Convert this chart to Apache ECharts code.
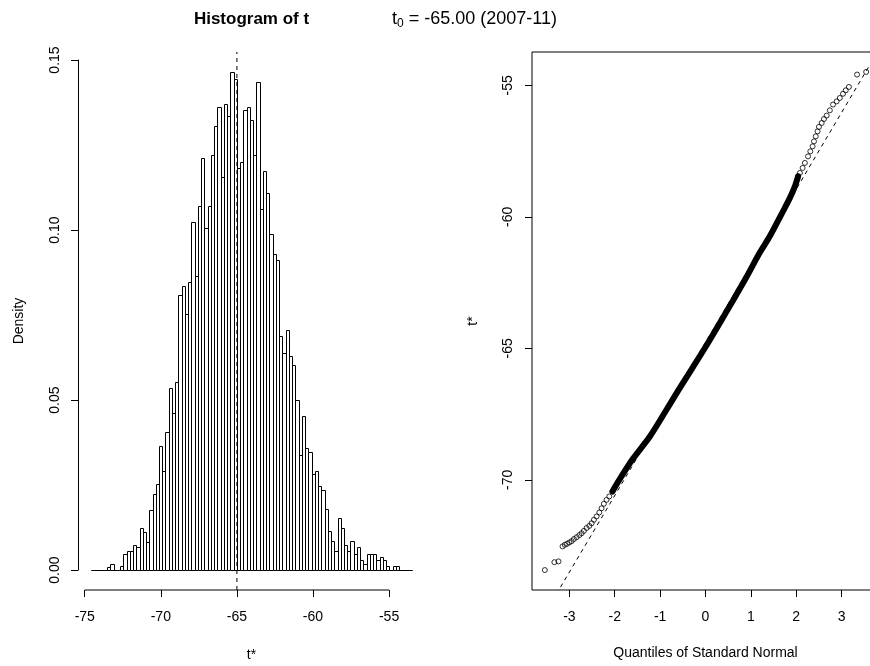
<!DOCTYPE html>
<html>
<head>
<meta charset="utf-8">
<title>Histogram of t</title>
<script src="https://cdn.jsdelivr.net/npm/echarts@6/dist/echarts.min.js"></script>
<style>
  html, body { margin: 0; padding: 0; background: #fff; }
  #main { width: 870px; height: 666px; }
</style>
</head>
<body>
<div id="main"></div>
<script>
// bootstrap histogram: breaks centred on t0, bins k = -45 .. 53
var t0 = -65;
var binWidth = 0.2133;
var firstBin = -45;
var density = [
    0, 0, 0, 0, 0,
    0.0010, 0.0017, 0, 0, 0.0011, 0.0047, 0.0056, 0.0056, 0.0074, 0.0067,
    0.0123, 0.0113, 0.0084, 0.0178, 0.0225, 0.0253, 0.0366, 0.0290, 0.0405, 0.0536,
    0.0461, 0.0554, 0.0808, 0.0834, 0.0752, 0.0846, 0.1025, 0.0864, 0.1071, 0.1211,
    0.1005, 0.1071, 0.1220, 0.1305, 0.1361, 0.1155, 0.1372, 0.1334, 0.1465, 0.1445,
    0.1182, 0.1201, 0.1354, 0.1362, 0.1324, 0.1221, 0.1436, 0.1062, 0.1174, 0.1109,
    0.0988, 0.0929, 0.0911, 0.0687, 0.0638, 0.0706, 0.0630, 0.0602, 0.0500, 0.0339,
    0.0452, 0.0359, 0.0347, 0.0282, 0.0290, 0.0246, 0.0235, 0.0179, 0.0115, 0.0085,
    0.0057, 0.0153, 0.0124, 0.0075, 0.0057, 0.0085, 0.0048, 0.0068, 0.0029, 0.0018,
    0.0048, 0.0048, 0.0048, 0.0030, 0.0038, 0.0030, 0.0012, 0, 0.0012, 0.0012,
    0, 0, 0, 0
];
var histTicksX = [-75, -70, -65, -60, -55];
var histTicksY = [0, 0.05, 0.10, 0.15];

// normal QQ plot: dense middle (drawn as a thick band) and the sparser tails
var qqBandX = [-2.05, -1.90, -1.60, -1.23, -0.90, -0.60, -0.30, 0.00, 0.30, 0.60, 0.90, 1.20, 1.42, 1.71, 1.86, 1.97, 2.04];
var qqBandY = [-70.44, -70.00, -69.20, -68.36, -67.45, -66.60, -65.78, -64.95, -64.08, -63.20, -62.30, -61.35, -60.73, -59.78, -59.28, -58.84, -58.46];
var qqLowX = [-3.54, -3.33, -3.24, -3.15, -3.10, -3.05, -3.00, -2.95, -2.90, -2.84, -2.78, -2.73, -2.68, -2.62,
              -2.56, -2.51, -2.46, -2.40, -2.34, -2.29, -2.24, -2.18, -2.12, -2.05];
var qqLowY = [-73.43, -73.13, -73.10, -72.53, -72.47, -72.43, -72.38, -72.33, -72.25, -72.18, -72.10, -72.03, -71.94, -71.83,
              -71.75, -71.65, -71.52, -71.39, -71.24, -71.08, -70.91, -70.76, -70.63, -70.44];
var qqHighX = [2.04, 2.08, 2.14, 2.19, 2.26, 2.31, 2.36, 2.39, 2.43, 2.47, 2.50, 2.56, 2.61, 2.67, 2.74, 2.81,
               2.89, 2.96, 3.03, 3.09, 3.16, 3.34, 3.54];
var qqHighY = [-58.46, -58.33, -58.14, -57.95, -57.70, -57.51, -57.32, -57.13, -56.94, -56.75, -56.58, -56.43, -56.28, -56.15, -55.95, -55.73,
               -55.61, -55.48, -55.32, -55.19, -55.06, -54.59, -54.49];
var qqTicksX = [-3, -2, -1, 0, 1, 2, 3];
var qqTicksY = [-70, -65, -60, -55];
// qqline (through the quartiles)
var qqIntercept = -64.77;
var qqSlope = 2.913;

(function() {
    var myChart = echarts.init(document.getElementById('main'), null, { renderer: 'canvas' });
    var font = "'Liberation Sans', Arial, sans-serif";

    // histogram rects [x0, x1, density]
    var bins = [];
    for (var i = 0; i < density.length; i++) {
        var k = firstBin + i;
        bins.push([t0 + k * binWidth, t0 + (k + 1) * binWidth, density[i]]);
    }
    // R style limits: range extended by 4%
    var hx0 = bins[0][0], hx1 = bins[bins.length - 1][1];
    var hdx = (hx1 - hx0) * 0.04;
    var hymax = Math.max.apply(null, density);
    var hdy = hymax * 0.04;
    var hxMin = hx0 - hdx, hxMax = hx1 + hdx, hyMin = -hdy, hyMax = hymax + hdy;

    var allX = qqBandX.concat(qqLowX, qqHighX), allY = qqBandY.concat(qqLowY, qqHighY);
    var qx0 = Math.min.apply(null, allX), qx1 = Math.max.apply(null, allX);
    var qy0 = Math.min.apply(null, allY), qy1 = Math.max.apply(null, allY);
    var qxMin = qx0 - (qx1 - qx0) * 0.04, qxMax = qx1 + (qx1 - qx0) * 0.04;
    var qyMin = qy0 - (qy1 - qy0) * 0.04, qyMax = qy1 + (qy1 - qy0) * 0.04;

    var pairs = function(xs, ys) { return xs.map(function(x, i) { return [x, ys[i]]; }); };
    var band = pairs(qqBandX, qqBandY);
    var tails = pairs(qqLowX, qqLowY).concat(pairs(qqHighX, qqHighY));

    var labelStyle = { color: '#000', fontFamily: font, fontSize: 14 };
    var tick = { show: true, inside: false, length: 7, lineStyle: { color: '#000', width: 1 } };
    var noLine = { show: false, onZero: false };

    option = {
        animation: false,
        backgroundColor: '#fff',
        grid: [
            { left: 78, top: 52, width: 347, height: 538, outerBoundsMode: 'none' },
            { left: 532, top: 52, width: 347, height: 538, outerBoundsMode: 'none',
              show: true, borderColor: '#000', borderWidth: 1, backgroundColor: 'transparent' }
        ],
        graphic: [
            { type: 'text', x: 251.5, y: 19, style: { text: 'Histogram of t', fill: '#000',
                font: 'bold 17px ' + font, textAlign: 'center', textVerticalAlign: 'middle' } },
            { type: 'text', x: 392, y: 19, style: { text: 't{s|0} = -65.00 (2007-11)', fill: '#000',
                font: '18px ' + font, textVerticalAlign: 'middle',
                rich: { s: { fontSize: 12, fontFamily: font, verticalAlign: 'bottom', padding: [9, 0, 0, 0] } } } }
        ],
        xAxis: [{
            gridIndex: 0, type: 'value', min: hxMin, max: hxMax,
            name: 't*', nameLocation: 'middle', nameGap: 58,
            nameTextStyle: labelStyle,
            axisLine: noLine, splitLine: { show: false },
            axisTick: Object.assign({ customValues: histTicksX }, tick),
            axisLabel: Object.assign({ customValues: histTicksX, margin: 20 }, labelStyle)
        }, {
            gridIndex: 1, type: 'value', min: qxMin, max: qxMax,
            name: 'Quantiles of Standard Normal', nameLocation: 'middle', nameGap: 56,
            nameTextStyle: labelStyle,
            axisLine: noLine, splitLine: { show: false },
            axisTick: Object.assign({ customValues: qqTicksX }, tick),
            axisLabel: Object.assign({ customValues: qqTicksX, margin: 20 }, labelStyle)
        }],
        yAxis: [{
            gridIndex: 0, type: 'value', min: hyMin, max: hyMax,
            name: 'Density', nameLocation: 'middle', nameGap: 52, nameRotate: 90,
            nameTextStyle: labelStyle,
            axisLine: noLine, splitLine: { show: false },
            axisTick: Object.assign({ customValues: histTicksY }, tick),
            axisLabel: Object.assign({ customValues: histTicksY, margin: 16, rotate: 90,
                formatter: function(v) { return v.toFixed(2); } }, labelStyle)
        }, {
            gridIndex: 1, type: 'value', min: qyMin, max: qyMax,
            name: 't*', nameLocation: 'middle', nameGap: 52, nameRotate: 90,
            nameTextStyle: labelStyle,
            axisLine: noLine, splitLine: { show: false },
            axisTick: Object.assign({ customValues: qqTicksY }, tick),
            axisLabel: Object.assign({ customValues: qqTicksY, margin: 17, rotate: 90 }, labelStyle)
        }],
        series: [{
            name: 'hist',
            type: 'custom',
            xAxisIndex: 0, yAxisIndex: 0,
            clip: false,
            encode: { x: [0, 1], y: 2 },
            renderItem: function(params, api) {
                var p0 = api.coord([api.value(0), api.value(2)]);
                var p1 = api.coord([api.value(1), 0]);
                return {
                    type: 'rect',
                    shape: { x: Math.round(p0[0]) + 0.5, y: Math.round(p0[1]) + 0.5,
                             width: Math.round(p1[0]) - Math.round(p0[0]), height: Math.round(p1[1]) - Math.round(p0[1]) },
                    style: { fill: '#fff', stroke: '#000', lineWidth: 1 }
                };
            },
            data: bins
        }, {
            // t0 line
            name: 't0', type: 'line', xAxisIndex: 0, yAxisIndex: 0,
            symbol: 'none', clip: false,
            lineStyle: { color: '#000', width: 1, type: [4, 4] },
            data: [[t0, hyMin], [t0, hyMax]]
        }, {
            // R style x axis line, from first to last tick
            name: 'histAxisX', type: 'line', xAxisIndex: 0, yAxisIndex: 0,
            symbol: 'none', clip: false,
            lineStyle: { color: '#000', width: 1 },
            data: [[histTicksX[0], hyMin], [histTicksX[histTicksX.length - 1], hyMin]]
        }, {
            name: 'qqline', type: 'line', xAxisIndex: 1, yAxisIndex: 1,
            symbol: 'none', clip: true,
            lineStyle: { color: '#000', width: 1, type: [4, 4] },
            data: [[qxMin, qqIntercept + qqSlope * qxMin], [qxMax, qqIntercept + qqSlope * qxMax]]
        }, {
            name: 'band', type: 'line', xAxisIndex: 1, yAxisIndex: 1,
            symbol: 'none', clip: true, smooth: 0.3,
            lineStyle: { color: '#000', width: 6, cap: 'round', join: 'round' },
            data: band
        }, {
            name: 'points', type: 'scatter', xAxisIndex: 1, yAxisIndex: 1,
            symbol: 'circle', symbolSize: 5, clip: true,
            itemStyle: { color: 'rgba(0,0,0,0)', borderColor: '#000', borderWidth: 1 },
            data: tails
        }]
    };

    myChart.setOption(option);

    // R style y axis line of the histogram: a helper axis spanning first to last tick only
    var fin = { xAxisIndex: 0, yAxisIndex: 0 };
    var pBot = myChart.convertToPixel(fin, [hxMin, histTicksY[0]]);
    var pTop = myChart.convertToPixel(fin, [hxMin, histTicksY[histTicksY.length - 1]]);
    option.grid.push({ left: pBot[0], top: pTop[1], width: 20, height: pBot[1] - pTop[1],
                       outerBoundsMode: 'none', show: false });
    option.xAxis.push({ gridIndex: 2, type: 'value', show: false });
    option.yAxis.push({
        gridIndex: 2, type: 'value', position: 'left',
        min: histTicksY[0], max: histTicksY[histTicksY.length - 1],
        axisLine: { show: true, onZero: false, lineStyle: { color: '#000', width: 1 } },
        axisTick: { show: false }, axisLabel: { show: false }, splitLine: { show: false }
    });
    myChart.setOption(option);
})();
</script>
</body>
</html>
